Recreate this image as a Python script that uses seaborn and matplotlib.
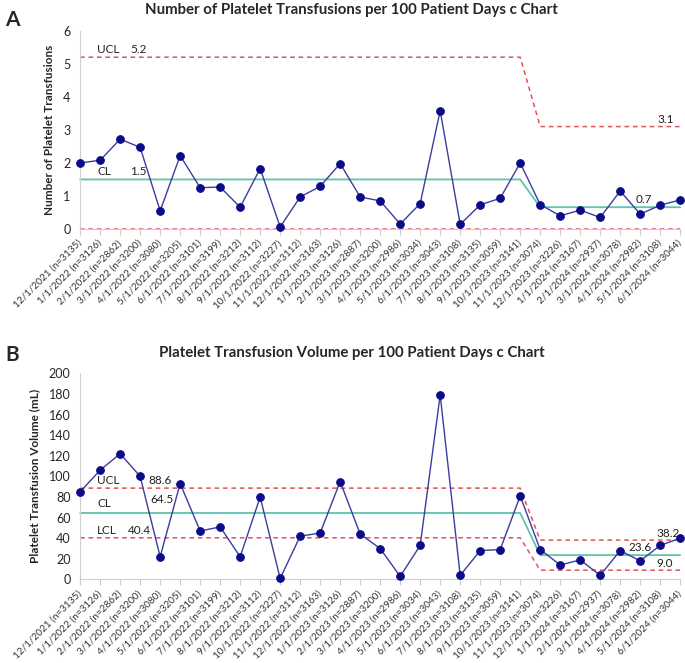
import numpy as np
import pandas as pd
import matplotlib
matplotlib.use("Agg")
import matplotlib.pyplot as plt
import seaborn as sns

# --- data ---
months = ["12/1/2021", "1/1/2022", "2/1/2022", "3/1/2022", "4/1/2022", "5/1/2022",
          "6/1/2022", "7/1/2022", "8/1/2022", "9/1/2022", "10/1/2022", "11/1/2022",
          "12/1/2022", "1/1/2023", "2/1/2023", "3/1/2023", "4/1/2023", "5/1/2023",
          "6/1/2023", "7/1/2023", "8/1/2023", "9/1/2023", "10/1/2023", "11/1/2023",
          "12/1/2023", "1/1/2024", "2/1/2024", "3/1/2024", "4/1/2024", "5/1/2024",
          "6/1/2024"]
n_days = [3135, 3126, 2862, 3200, 3080, 3205, 3101, 3199, 3212, 3112, 3227, 3112,
          3163, 3126, 2887, 3200, 2986, 3034, 3043, 3108, 3135, 3059, 3141, 3074,
          3226, 3167, 2937, 3078, 2982, 3108, 3044]

count_rate = [2.0, 2.08, 2.72, 2.47, 0.55, 2.22, 1.25, 1.27, 0.66, 1.83, 0.06, 0.97,
              1.29, 1.98, 0.97, 0.85, 0.15, 0.77, 3.58, 0.14, 0.73, 0.93, 2.0, 0.74,
              0.40, 0.57, 0.35, 1.15, 0.45, 0.72, 0.88]
volume_rate = [85, 106, 122, 100, 22, 93, 47, 51, 22, 80, 1, 42,
               45, 95, 44, 30, 3, 33, 179, 4, 28, 29, 81, 29,
               14, 19, 4, 28, 18, 33, 40]

# control limits: (before shift, after shift), shift after 10/1/2023
n_before = 23
a_ucl = (5.2, 3.1)
a_cl = (1.5, 0.66)
a_lcl = (0.0, 0.0)
b_ucl = (88.6, 38.2)
b_cl = (64.5, 23.6)
b_lcl = (40.4, 9.0)

labels = [f"{m} (n={n})" for m, n in zip(months, n_days)]
df = pd.DataFrame({"idx": np.arange(len(months)), "count": count_rate,
                   "volume": volume_rate})


def limit_series(pair):
    return [pair[0]] * n_before + [pair[1]] * (len(months) - n_before)


sns.set_style("white")
plt.rcParams["font.family"] = ["Lato", "DejaVu Sans"]

fig = plt.figure(figsize=(6.85, 6.63), dpi=100)
ax_a = fig.add_axes([0.117, 0.6546, 0.876, 0.299])
ax_b = fig.add_axes([0.117, 0.1260, 0.876, 0.311])

red = "#e0525a"
teal = "#5cc4b0"
navy = "#0b0b8a"
line_c = "#3c3c9c"


def draw(ax, col, ucl, cl, lcl, ymax, ystep, ylabel, title):
    df["ucl"] = limit_series(ucl)
    df["cl"] = limit_series(cl)
    df["lcl"] = limit_series(lcl)
    sns.lineplot(data=df, x="idx", y="ucl", ax=ax, color=red, lw=1.1,
                 linestyle=(0, (3, 2.5)), clip_on=False)
    sns.lineplot(data=df, x="idx", y="lcl", ax=ax, color=red, lw=1.1,
                 linestyle=(0, (3, 2.5)), clip_on=False)
    sns.lineplot(data=df, x="idx", y="cl", ax=ax, color=teal, lw=1.3, clip_on=False)
    sns.lineplot(data=df, x="idx", y=col, ax=ax, color=line_c, lw=1.0,
                 marker="o", markersize=5.5, markerfacecolor=navy,
                 markeredgecolor=navy, clip_on=False, zorder=5)
    ax.set_xlim(0, len(months) - 1)
    ax.set_ylim(0, ymax)
    ax.set_yticks(np.arange(0, ymax + ystep / 2, ystep))
    ax.set_xticks(df["idx"])
    ax.set_xticklabels(labels, rotation=45, ha="right", va="center",
                       rotation_mode="anchor", fontsize=7.2, color="#333333")
    ax.tick_params(axis="y", labelsize=9, length=4, color="#cccccc", pad=3)
    ax.tick_params(axis="x", length=4, color="#cccccc", pad=5, bottom=True)
    ax.set_xlabel("")
    ax.set_ylabel(ylabel, fontsize=8.5, fontweight="bold", labelpad=6)
    ax.set_title(title, fontsize=10.8, fontweight="bold", pad=12, x=0.452)
    for s in ["top", "right"]:
        ax.spines[s].set_visible(False)
    ax.spines["left"].set_color("#d0d0d0")
    ax.spines["bottom"].set_color("#d0d0d0")


draw(ax_a, "count", a_ucl, a_cl, a_lcl, 6, 1, "Number of Platelet Transfusions",
     "Number of Platelet Transfusions per 100 Patient Days c Chart")
draw(ax_b, "volume", b_ucl, b_cl, b_lcl, 200, 20, "Platelet Transfusion Volume (mL)",
     "Platelet Transfusion Volume per 100 Patient Days c Chart")

tk = dict(fontsize=8.5, color="#222222", va="bottom")
ax_a.text(0.85, a_ucl[0] + 0.06, "UCL", **tk)
ax_a.text(2.5, a_ucl[0] + 0.06, f"{a_ucl[0]:.1f}", **tk)
ax_a.text(0.85, a_cl[0] + 0.06, "CL", **tk)
ax_a.text(2.5, a_cl[0] + 0.06, f"{a_cl[0]:.1f}", **tk)
ax_a.text(28.85, a_ucl[1] + 0.06, f"{a_ucl[1]:.1f}", **tk)
ax_a.text(27.75, a_cl[1] + 0.06, "0.7", **tk)

ax_b.text(0.85, b_ucl[0] + 2, "UCL", **tk)
ax_b.text(3.4, b_ucl[0] + 2, f"{b_ucl[0]:.1f}", **tk)
ax_b.text(0.85, b_cl[0] + 4, "CL", **tk)
ax_b.text(3.5, b_cl[0] + 8, f"{b_cl[0]:.1f}", **tk)
ax_b.text(0.85, b_lcl[0] + 2, "LCL", **tk)
ax_b.text(2.4, b_lcl[0] + 2, f"{b_lcl[0]:.1f}", **tk)
ax_b.text(28.8, b_ucl[1] + 1, f"{b_ucl[1]:.1f}", **tk)
ax_b.text(27.4, b_cl[1] + 2, f"{b_cl[1]:.1f}", **tk)
ax_b.text(28.8, b_lcl[1] + 1, f"{b_lcl[1]:.1f}", **tk)

fig.text(0.008, 0.985, "A", fontsize=15, fontweight="bold", va="top")
fig.text(0.008, 0.48, "B", fontsize=15, fontweight="bold", va="top")

fig.savefig("out.png", dpi=100)
